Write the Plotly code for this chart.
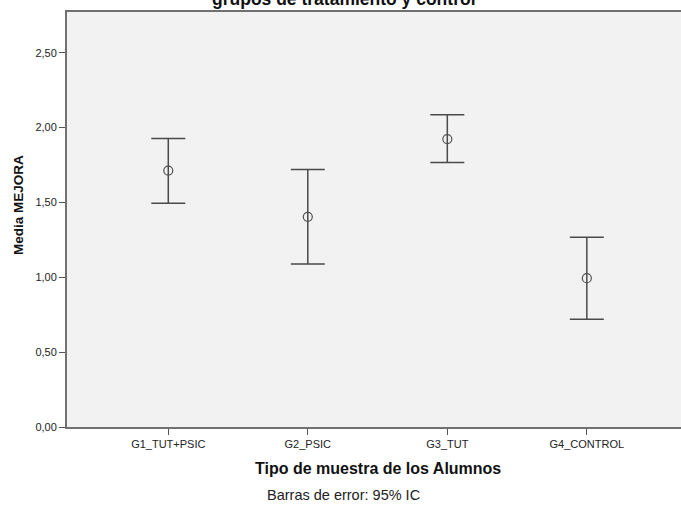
import plotly.graph_objects as go

categories = ["G1_TUT+PSIC", "G2_PSIC", "G3_TUT", "G4_CONTROL"]
means = [1.713, 1.404, 1.923, 0.994]
ci_lower = [1.495, 1.088, 1.767, 0.720]
ci_upper = [1.927, 1.720, 2.086, 1.268]
y_ticks = [0.0, 0.5, 1.0, 1.5, 2.0, 2.5]

W, H = 681, 510
L, R, T, B = 67, 0, 12, 83
pw, ph = W - L - R, H - T - B

def px_x(x):
    return (x - L) / pw

def px_y(y):
    return (H - B - y) / ph

err_plus = [u - m for u, m in zip(ci_upper, means)]
err_minus = [m - l for m, l in zip(means, ci_lower)]

fig = go.Figure()
fig.add_trace(go.Scatter(
    x=categories, y=means, mode="markers",
    marker=dict(symbol="circle-open", size=9, color="#505050", line=dict(width=1.2, color="#505050")),
    error_y=dict(type="data", symmetric=False, array=err_plus, arrayminus=err_minus,
                 color="#4a4a4a", thickness=1.5, width=17),
    showlegend=False, hoverinfo="skip",
))

font = "Liberation Sans, Arial, sans-serif"
fig.update_layout(
    width=W, height=H,
    margin=dict(l=L, r=R, t=T, b=B, pad=0),
    paper_bgcolor="white", plot_bgcolor="#f2f2f2",
    font=dict(family=font, size=11, color="#222222"),
    separators=",.",
    xaxis=dict(type="category", range=[-0.726, 3.675], showgrid=False, zeroline=False,
               showline=True, linecolor="#707070", linewidth=2, mirror=True,
               ticks="outside", ticklen=6, tickwidth=1, tickcolor="#555555",
               tickfont=dict(size=11, color="#222222")),
    yaxis=dict(range=[0, 2.772], tickvals=y_ticks, tickformat=".2f", showgrid=False, zeroline=False,
               showline=True, linecolor="#707070", linewidth=2,
               ticks="outside", ticklen=6, tickwidth=1, tickcolor="#555555",
               tickfont=dict(size=11, color="#222222")),
    annotations=[
        dict(text="<b>grupos de tratamiento y control</b>", xref="paper", yref="paper",
             x=px_x(344), y=px_y(6), xanchor="center", yanchor="bottom", yshift=-5, showarrow=False,
             font=dict(family=font, size=17.5, color="#111111")),
        dict(text="<b>Tipo de muestra de los Alumnos</b>", xref="paper", yref="paper",
             x=px_x(378), y=px_y(468), xanchor="center", yanchor="middle", showarrow=False,
             font=dict(family=font, size=16, color="#111111")),
        dict(text="Barras de error: 95% IC", xref="paper", yref="paper",
             x=px_x(343), y=px_y(495), xanchor="center", yanchor="middle", showarrow=False,
             font=dict(family=font, size=14.5, color="#222222")),
        dict(text="<b>Media MEJORA</b>", xref="paper", yref="paper", textangle=-90,
             x=px_x(18), y=px_y(205), xanchor="center", yanchor="middle", showarrow=False,
             font=dict(family=font, size=13.5, color="#111111")),
    ],
)

fig.write_html("out.html", config={"displayModeBar": False},
               post_script="document.body.style.margin='0';")
